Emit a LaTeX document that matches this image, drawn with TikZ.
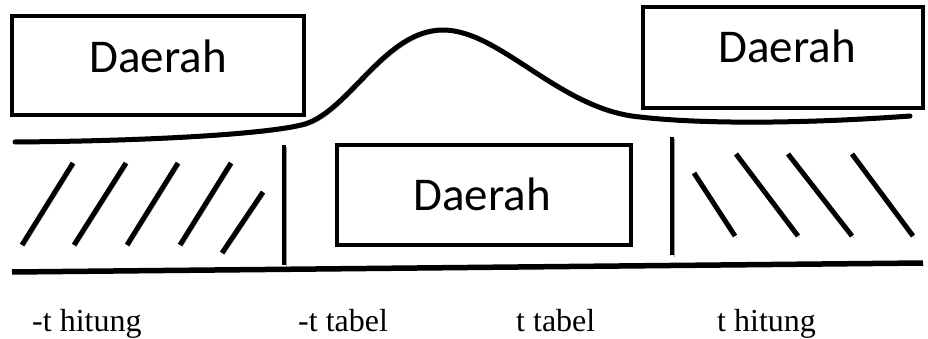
\documentclass[tikz,border=0pt]{standalone}
\usepackage{fontspec}
\setmainfont{Liberation Serif}
\newfontfamily\carl{Carlito}
\begin{document}
\begin{tikzpicture}[x=1pt,y=-1pt,
  sh/.style={preaction={draw=black!40,transform canvas={shift={(2pt,-2pt)}}}},
  ln/.style={line width=5pt,sh},
  box/.style={draw,line width=4.5pt,inner sep=0pt,outer sep=0pt},
  daerah/.style={font=\carl\fontsize{47}{50}\selectfont,anchor=base,inner sep=0pt},
  lbl/.style={font=\fontsize{32}{36}\selectfont,anchor=base west,inner sep=0pt}]
\useasboundingbox (0,0) rectangle (928,339);
% boxes
\node[box,minimum width=292pt,minimum height=99pt] (b1) at (158,65.5) {};
\node[box,minimum width=280pt,minimum height=101pt] (b2) at (783,57.5) {};
\node[box,minimum width=294pt,minimum height=100pt] (b3) at (484,195) {};
\node[daerah] (t1) at (158,73) {Daerah};
\node[daerah] (t2) at (787,63) {Daerah};
\node[daerah] (t3) at (482,210) {Daerah};
% curve
\draw[ln,line cap=round] (15,142) .. controls (150,141) and (270,134) .. (305,124)
  .. controls (350,110) and (385,30) .. (443,30)
  .. controls (500,30) and (560,110) .. (640,117)
  .. controls (700,124) and (800,124) .. (910,116);
% vertical separators and baseline
\coordinate (v1a) at (284,145); \coordinate (v1b) at (284,265);
\coordinate (v2a) at (672,137); \coordinate (v2b) at (672,255);
\coordinate (bl) at (12,272); \coordinate (br) at (923,263);
\draw[ln,line width=4pt] (v1a) -- (v1b);
\draw[ln,line width=4pt] (v2a) -- (v2b);
\draw[ln,line width=5.5pt] (bl) -- (br);
% left hatching
\draw[ln] (22,245) -- (73,163);
\draw[ln] (74,245) -- (126,163);
\draw[ln] (127,245) -- (178,163);
\draw[ln] (180,245) -- (231,163);
\draw[ln] (222,253) -- (263,192);
% right hatching
\draw[ln] (694,173) -- (735,236);
\draw[ln] (736,154) -- (798,236);
\draw[ln] (788,154) -- (852,236);
\draw[ln] (852,154) -- (913,236);
% labels
\node[lbl] (l1) at (32,331) {-t hitung};
\node[lbl] (l2) at (298,331) {-t tabel};
\node[lbl] (l3) at (516,331) {t tabel};
\node[lbl] (l4) at (717,331) {t hitung};
\end{tikzpicture}
\end{document}
